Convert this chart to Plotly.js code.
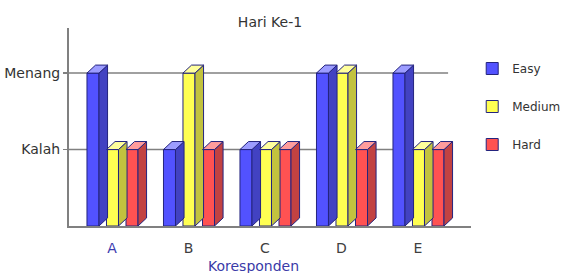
<!DOCTYPE html>
<html>
<head>
<meta charset="utf-8">
<script src="https://cdn.plot.ly/plotly-3.0.1.min.js"></script>
<style>html,body{margin:0;padding:0;background:#fff;}#chart{width:563px;height:273px;}</style>
</head>
<body>
<div id="chart"></div>
<script>
// ---- data ----
const categories = ['A', 'B', 'C', 'D', 'E'];
const easy   = [2, 1, 1, 2, 2];
const medium = [1, 2, 1, 2, 1];
const hard   = [1, 1, 1, 1, 1];
const yTickVals = [1, 2];
const yTickText = ['Kalah', 'Menang'];
const seriesNames = ['Easy', 'Medium', 'Hard'];

// ---- styling ----
const frontColors = ['#5252FF', '#FFFF52', '#FF5252'];
const sideColors  = ['#4242C2', '#C2C23E', '#C24242'];
const topColors   = ['#9C9CFF', '#FFFF9C', '#FF9C9C'];
const edge = '#24247e';
const barW = 0.157, step = 0.255, firstOff = -0.327;
const dx = 0.112, dy = 0.105;
const FONT = 'DejaVu Sans, Arial, sans-serif';

const seriesVals = [easy, medium, hard];
const xIdx = categories.map((c, i) => i);
const traces = [];

seriesVals.forEach((vals, k) => {
  traces.push({
    type: 'bar', name: seriesNames[k], x: xIdx, y: vals,
    offset: firstOff + k * step, width: barW,
    marker: {color: frontColors[k], line: {color: edge, width: 1}},
    legendgroup: seriesNames[k], hoverinfo: 'name+y'
  });
});

seriesVals.forEach((vals, k) => {
  const sx = [], sy = [], tx = [], ty = [];
  vals.forEach((v, i) => {
    const x0 = i + firstOff + k * step, x1 = x0 + barW;
    sx.push(x1, x1 + dx, x1 + dx, x1, x1, null);
    sy.push(0, dy, v + dy, v, 0, null);
    tx.push(x0, x0 + dx, x1 + dx, x1, x0, null);
    ty.push(v, v + dy, v + dy, v, v, null);
  });
  traces.push({type: 'scatter', mode: 'lines', x: sx, y: sy, fill: 'toself',
    fillcolor: sideColors[k], line: {color: edge, width: 1}, showlegend: false, hoverinfo: 'skip', cliponaxis: false});
  traces.push({type: 'scatter', mode: 'lines', x: tx, y: ty, fill: 'toself',
    fillcolor: topColors[k], line: {color: edge, width: 1}, showlegend: false, hoverinfo: 'skip', cliponaxis: false});
});

const tickText = categories.map((c, i) => i === 0 ? '<span style="color:#3c3cb0">' + c + '</span>' : c);

const layout = {
  width: 563, height: 273,
  margin: {l: 69, r: 92, t: 28, b: 47, pad: 0, autoexpand: false},
  paper_bgcolor: '#fff', plot_bgcolor: '#fff',
  font: {family: FONT, size: 14, color: '#333'},
  title: {text: 'Hari Ke-1', x: 0.5, xref: 'paper', y: 1 - 22 / 273, yref: 'container', yanchor: 'middle',
          font: {family: FONT, size: 14, color: '#333'}},
  barmode: 'overlay',
  showlegend: true,
  legend: {x: 1.003, xanchor: 'left', y: (226 - 54) / 198, yanchor: 'top',
           font: {family: FONT, size: 12, color: '#333'}, tracegroupgap: 19, bgcolor: 'rgba(0,0,0,0)'},
  xaxis: {range: [-0.562, 4.693], tickvals: xIdx, ticktext: tickText, showgrid: false, zeroline: false,
          showline: true, linecolor: '#808080', linewidth: 2, ticks: '', ticklabelstandoff: 8,
          tickfont: {family: FONT, size: 14, color: '#404040'}, fixedrange: true},
  yaxis: {range: [0, 2.59], tickvals: yTickVals, ticktext: yTickText, showgrid: false, zeroline: false,
          showline: true, linecolor: '#808080', linewidth: 2, ticks: 'outside', ticklen: 4, tickcolor: '#808080',
          tickwidth: 1.5, tickfont: {family: FONT, size: 14, color: '#333'}, fixedrange: true},
  shapes: yTickVals.map(v => ({type: 'line', xref: 'paper', x0: 0, x1: 0.943, yref: 'y', y0: v, y1: v,
          line: {color: '#808080', width: 1.5}, layer: 'below'})),
  annotations: [{text: 'Koresponden', xref: 'paper', yref: 'paper', x: (253 - 69) / 402, y: (226 - 266) / 198,
          xanchor: 'center', yanchor: 'middle', showarrow: false, font: {family: FONT, size: 14, color: '#3a3aa8'}}]
};

Plotly.newPlot('chart', traces, layout, {displayModeBar: false, staticPlot: true});
</script>
</body>
</html>
